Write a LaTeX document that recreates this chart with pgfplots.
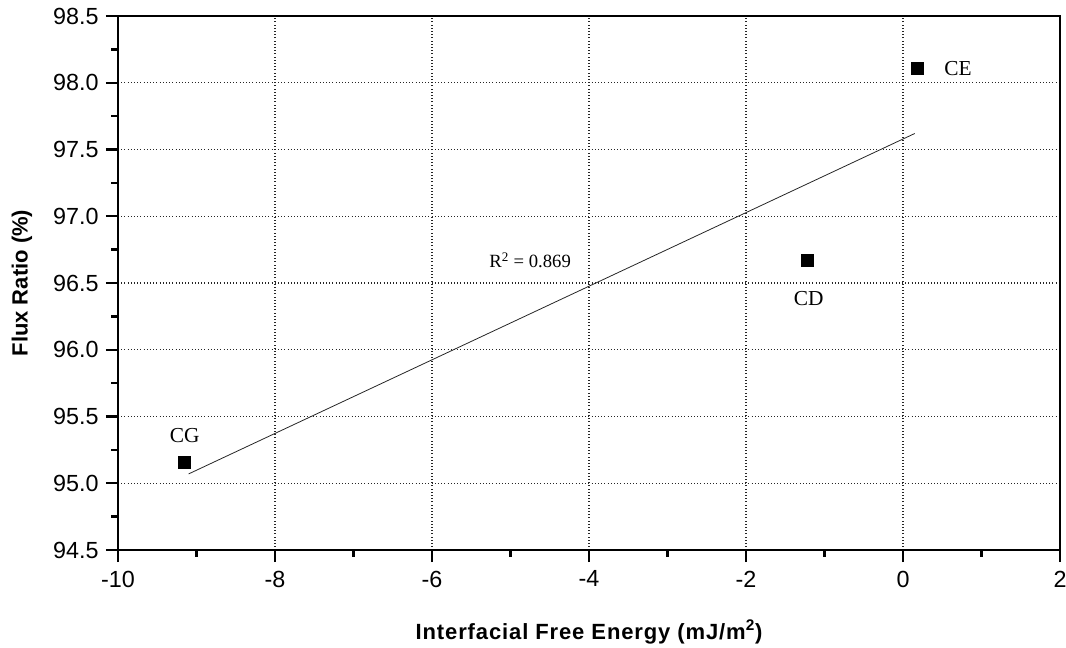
\documentclass[border=0pt]{standalone}
\usepackage{fontspec}
\setmainfont{Liberation Sans}
\newfontfamily\seriffont{Liberation Serif}
\newfontfamily\labfont[LetterSpace=4]{Liberation Sans}
\usepackage{pgfplots}
\pgfplotsset{compat=1.18}
\begin{document}
\begin{tikzpicture}[font=\fontsize{16pt}{19pt}\selectfont]
\begin{axis}[
  scale only axis,
  width=706.5pt, height=400.5pt,
  xmin=-10, xmax=2, ymin=94.5, ymax=98.5,
  xtick={-10,-8,...,2},
  ytick={94.5,95,...,98.5},
  minor x tick num=1,
  minor y tick num=1,
  tick align=outside,
  xtick pos=bottom, ytick pos=left,
  major tick length=9pt,
  minor tick length=5pt,
  every tick/.style={line width=1.8pt, black},
  axis line style={line width=2.2pt},
  grid=major,
  major grid style={dotted, line width=0.8pt, black!85},
  /pgf/number format/assume math mode=true,
  tick label style={font=\fontsize{17.5pt}{20pt}\selectfont},
  y tick label style={/pgf/number format/fixed, /pgf/number format/fixed zerofill, /pgf/number format/precision=1, xshift=-2pt},
  x tick label style={yshift=-3pt},
  clip=false,
]
\addplot[only marks, mark=square*, mark size=4.5pt, black] coordinates {
  (-9.15,95.16) (-1.22,96.67) (0.18,98.11)
};
\addplot[black!85, line width=0.6pt] coordinates {(-9.1,95.07) (0.15,97.62)};
\node[font=\seriffont\fontsize{16pt}{19pt}\selectfont] at (axis cs:-9.15,95.36) {CG};
\node[font=\seriffont\fontsize{16pt}{19pt}\selectfont] at (axis cs:-1.2,96.38) {CD};
\node[font=\seriffont\fontsize{16pt}{19pt}\selectfont] at (axis cs:0.70,98.11) {CE};
\node[font=\seriffont\fontsize{14pt}{17pt}\selectfont] at (axis cs:-4.75,96.67) {R\textsuperscript{2} = 0.869};
\end{axis}
\node[rotate=90, font=\bfseries\fontsize{16.5pt}{19pt}\selectfont] at (-72pt,200.25pt) {Flux Ratio (\%)};
\node[font=\labfont\bfseries\fontsize{16.5pt}{19pt}\selectfont] at (353.25pt,-61.5pt) {Interfacial Free Energy (mJ/m\textsuperscript{2})};
\pgfresetboundingbox
\path[use as bounding box] (-88.5pt,-72.75pt) rectangle (711pt,412.5pt);
\end{tikzpicture}
\end{document}
